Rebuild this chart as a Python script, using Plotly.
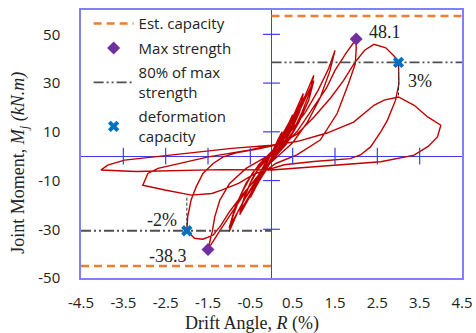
import plotly.graph_objects as go

# Hysteresis path (drift %, moment kN.m)
drift = [0,
 0.08,0.16,0.25,0.2,0.12,0.04,-0.04,-0.12,-0.25,-0.18,-0.1,-0.02,
 0.08,0.16,0.25,0.19,0.1,0.0,-0.1,-0.25,-0.18,-0.1,
 0.0,0.15,0.3,0.42,0.5,0.44,0.34,0.22,0.08,-0.05,-0.2,-0.35,-0.5,-0.43,-0.32,-0.2,-0.08,
 0.05,0.2,0.35,0.5,0.43,0.3,0.15,0.02,-0.15,-0.32,-0.5,-0.42,-0.3,-0.15,
 0.0,0.2,0.4,0.6,0.75,0.68,0.55,0.38,0.2,0.02,-0.2,-0.4,-0.6,-0.75,-0.66,-0.5,-0.32,-0.12,
 0.05,0.3,0.5,0.75,0.66,0.48,0.28,0.05,-0.2,-0.45,-0.75,-0.64,-0.45,-0.25,
 0.0,0.3,0.55,0.8,1.0,0.9,0.72,0.5,0.25,0.0,-0.3,-0.55,-0.8,-1.0,-0.9,-0.7,-0.45,-0.2,
 0.05,0.4,0.7,1.0,0.88,0.65,0.35,0.05,-0.3,-0.65,-1.0,-0.86,-0.6,-0.3,
 0.0,0.4,0.8,1.1,1.35,1.5,1.38,1.15,0.85,0.5,0.15,-0.2,-0.55,-0.9,-1.2,-1.5,-1.4,-1.34,-1.22,-0.99,-0.6,-0.2,
 0.2,0.6,1.0,1.3,1.5,1.75,2.0,2.0,1.98,1.82,1.55,1.15,0.6,0.1,-0.3,-0.7,-1.0,-1.2,-1.38,-1.62,-1.82,-2.0,
 -1.98,-1.9,-1.78,-1.62,-1.38,-1.14,-0.83,
 -0.3,0.2,0.6,1.0,1.4,1.7,1.95,2.2,2.42,2.7,2.9,3.0,3.01,2.93,2.74,2.58,2.34,2.1,1.86,1.0,0.3,
 -0.38,-0.78,-1.18,-1.41,-1.89,-2.13,-2.52,-3.04,-2.92,-2.68,-2.2,-1.49,-0.54,0.0,
 0.6,1.31,1.94,2.42,2.66,3.0,3.37,3.69,4.0,3.92,3.7,3.37,2.58,1.5,0.0,-1.18,-2.13,-3.2,-4.03,
 -3.87,-3.47,-2.13,-0.94,0.0]
moment = [0,
 3.5,7,10,7,3.5,0.5,-2.5,-5.5,-9,-5.5,-2.5,0.5,
 4,7,9.5,6,2.5,-0.5,-4,-8.5,-5,-2,
 1,5,9.5,14,17,13,8.5,4.5,0.5,-3,-7.5,-12,-17,-13,-8.5,-4.5,-1,
 2.5,7,11.5,16.5,12,7.5,3,-0.5,-5.5,-11,-16.5,-12,-7.5,-3,
 1,6,12,19.5,25.7,20,14,8,3,-1.5,-7,-13,-19,-24,-18,-11,-5.5,-1.5,
 2,8.5,15,24,18,11,5,-0.5,-6.5,-14,-23,-16.5,-9,-3.5,
 1.5,8.5,16,25,33.2,26,18,10,3.5,-1.5,-8,-15,-23,-31,-24,-15,-7,-2,
 2,10,20,31,23,14,5,-1,-9,-18,-29.5,-21,-11,-3.5,
 2,9,18,27,36,43.4,35,24,14,5.5,0,-5.5,-13,-22,-30,-38.3,-31,-24.9,-18,-11.2,-5,-1,
 3,10,20,28,35.2,42,48.1,44,38,29.8,17.5,6.6,0.5,-3,-8,-16,-23,-28.5,-32.4,-34.1,-33.7,-30.6,
 -24.9,-18,-12.6,-7.1,-3,-0.3,1.4,
 3,5,9,16,24,31,38,43.5,45.9,44.5,41,38.5,29.8,23,14.8,10,3.8,0.5,-1,-2.2,-3.5,
 -7.1,-11.2,-13.9,-15.3,-16,-15.3,-13.9,-11.9,-7.1,-5,-3,-0.3,2.5,4.5,
 6,9.5,14,20.9,23,24.3,20.9,16.1,12.7,7.9,4,0.4,-2.3,-3.8,-5.7,-5.5,-6,-6.3,-5.7,
 -3.7,-1.6,1.1,3.2,4.5]

est_capacity = [57.5, -45.1]
max_strength_R = [2.0, -1.5]
max_strength_M = [48.1, -38.3]
deform_R = [3.0, -2.0]
deform_M = [38.5, -30.6]
deform_next_M = [24.3, -16.5]
x_ticks = [-4.5, -3.5, -2.5, -1.5, -0.5, 0.5, 1.5, 2.5, 3.5, 4.5]
y_ticks = [-50, -30, -10, 10, 30, 50]
axis_mark_x = [-3.5, -2.5, -1.5, -0.5, 0.5, 1.5, 2.5, 3.5]
axis_mark_y = [-30, -10, 10, 30, 50]

RED = "#c00000"
ORANGE = "#ed7d31"
GRAY = "#505050"
PURPLE = "#7030a0"
BLUE = "#0070c0"
AXBLUE = "#3c3cf0"
FRAME = "#8080f8"

fig = go.Figure()

fig.add_trace(go.Scatter(x=drift, y=moment, mode="lines",
                         line=dict(color=RED, width=1.4), showlegend=False,
                         hoverinfo="skip"))

# tick marks crossing the zero axes
fig.add_trace(go.Scatter(x=axis_mark_x, y=[0]*len(axis_mark_x), mode="markers",
                         marker=dict(symbol="line-ns", size=12,
                                     line=dict(width=1.2, color=AXBLUE)),
                         showlegend=False, hoverinfo="skip"))
fig.add_trace(go.Scatter(x=[0]*len(axis_mark_y), y=axis_mark_y, mode="markers",
                         marker=dict(symbol="line-ew", size=12,
                                     line=dict(width=1.2, color=AXBLUE)),
                         showlegend=False, hoverinfo="skip"))

# estimated capacity
fig.add_trace(go.Scatter(x=[0, 4.5], y=[est_capacity[0]]*2, mode="lines",
                         line=dict(color=ORANGE, width=2.5, dash="8px,5px"),
                         name="Est. capacity", legendgroup="a", legendrank=1))
fig.add_trace(go.Scatter(x=[-4.5, 0], y=[est_capacity[1]]*2, mode="lines",
                         line=dict(color=ORANGE, width=2.5, dash="8px,5px"),
                         showlegend=False, legendgroup="a"))

# 80% lines
fig.add_trace(go.Scatter(x=[0, 4.5], y=[deform_M[0]]*2, mode="lines",
                         line=dict(color=GRAY, width=1.8, dash="10px,3px,2px,3px,2px,3px"),
                         name="80% of max<br>strength", legendgroup="c", legendrank=3))
fig.add_trace(go.Scatter(x=[-4.5, 0], y=[deform_M[1]]*2, mode="lines",
                         line=dict(color=GRAY, width=1.8, dash="10px,3px,2px,3px,2px,3px"),
                         showlegend=False, legendgroup="c"))

# dashed verticals from deformation capacity points
for r, m0, m1 in zip(deform_R, deform_M, deform_next_M):
    fig.add_trace(go.Scatter(x=[r, r], y=[m0, m1], mode="lines",
                             line=dict(color="#303030", width=1, dash="3px,2px"),
                             showlegend=False, hoverinfo="skip"))

fig.add_trace(go.Scatter(x=max_strength_R, y=max_strength_M, mode="markers",
                         marker=dict(symbol="diamond", size=10, color=PURPLE),
                         name="Max strength", legendgroup="b", legendrank=2))
fig.add_trace(go.Scatter(x=deform_R, y=deform_M, mode="markers",
                         marker=dict(symbol="x", size=10, color=BLUE),
                         name="deformation<br>capacity", legendgroup="d", legendrank=4))

serif = "Liberation Serif"
annos = [
    dict(x=2.67, y=51, text="48.1"),
    dict(x=3.5, y=31, text="3%"),
    dict(x=-2.58, y=-26.2, text="-2%"),
    dict(x=-2.45, y=-41, text="-38.3"),
]
for a in annos:
    fig.add_annotation(x=a["x"], y=a["y"], text=a["text"], showarrow=False,
                       xanchor="center", yanchor="middle",
                       font=dict(family=serif, size=18, color="#222"))

fig.add_annotation(xref="paper", yref="paper", x=0.449, y=-0.168,
                   xanchor="center", yanchor="middle",
                   text="Drift Angle, <i>R</i> (%)", showarrow=False,
                   font=dict(family=serif, size=18, color="#222"))
fig.add_annotation(xref="paper", yref="paper", x=-0.16, y=0.43, textangle=-90,
                   xanchor="center", yanchor="middle",
                   text="Joint Moment, <i>M<sub>j</sub></i> <i>(kN.m)</i>", showarrow=False,
                   font=dict(family=serif, size=18, color="#222"))

fig.update_layout(
    width=476, height=333,
    margin=dict(l=81, r=14, t=10, b=55, autoexpand=False),
    paper_bgcolor="white", plot_bgcolor="white",
    font=dict(family="Open Sans", size=15, color="#222"),
    legend=dict(x=0.02, y=1.01, xanchor="left", yanchor="top",
                bgcolor="rgba(255,255,255,0)", font=dict(size=15),
                tracegroupgap=2, itemwidth=40),
    showlegend=True,
)
fig.update_xaxes(range=[-4.5, 4.5], tickvals=x_ticks, ticktext=[str(v) for v in x_ticks],
                 showgrid=False, zeroline=True, zerolinecolor=AXBLUE, zerolinewidth=1.2,
                 showline=True, mirror=True, linecolor=FRAME, linewidth=1.5,
                 ticks="", ticklabelstandoff=10, automargin=False)
fig.update_yaxes(range=[-50, 60], tickvals=y_ticks, ticktext=[str(v) for v in y_ticks],
                 showgrid=False, zeroline=True, zerolinecolor=AXBLUE, zerolinewidth=1.2,
                 showline=True, mirror=True, linecolor=FRAME, linewidth=1.5,
                 ticks="", ticklabelstandoff=16, automargin=False)

fig.write_html("out.html", config={"displayModeBar": False},
               post_script="document.body.style.margin='0';document.body.style.overflow='hidden';")
